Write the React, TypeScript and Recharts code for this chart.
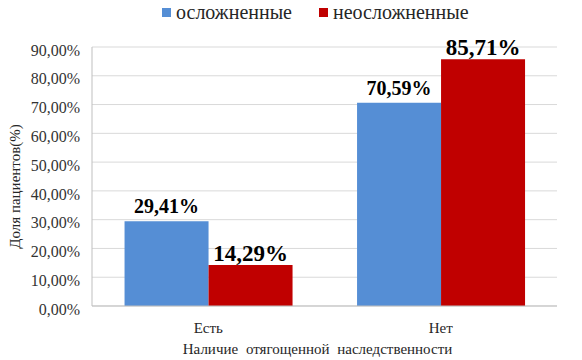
import React from 'react';
import { BarChart, Bar, XAxis, YAxis, CartesianGrid, LabelList, Label } from 'recharts';

const categories = ['Есть', 'Нет'];
const complicated = [29.41, 70.59];
const uncomplicated = [14.29, 85.71];
const yTicks = [0, 10, 20, 30, 40, 50, 60, 70, 80, 90];

const data = categories.map((name, i) => ({
  name,
  complicated: complicated[i],
  uncomplicated: uncomplicated[i],
}));

const BLUE = '#558ED5';
const RED = '#C00000';
const FONT = "'Liberation Serif', 'Times New Roman', serif";

const fmt = (v: number) => v.toFixed(2).replace('.', ',') + '%';

const legendItems = [
  { label: 'осложненные', color: BLUE },
  { label: 'неосложненные', color: RED },
];

function LegendBox() {
  return (
    <div
      style={{
        position: 'absolute',
        top: 1,
        left: 162,
        display: 'flex',
        alignItems: 'center',
        fontFamily: FONT,
        fontSize: 20,
        color: '#262626',
      }}
    >
      {legendItems.map((it, i) => (
        <div key={i} style={{ display: 'flex', alignItems: 'center', marginRight: 27 }}>
          <span style={{ width: 9, height: 9, background: it.color, display: 'inline-block', marginRight: 5 }} />
          <span>{it.label}</span>
        </div>
      ))}
    </div>
  );
}

export default function App() {
  return (
    <div style={{ position: 'absolute', left: 0, top: 0, width: 582, height: 360, background: '#fff', fontFamily: FONT }}>
      <BarChart
        width={582}
        height={360}
        data={data}
        margin={{ top: 47, right: 25, bottom: 0, left: 0 }}
        barCategoryGap="14%"
        barGap={0}
        style={{ fontFamily: FONT }}
      >
        <CartesianGrid vertical={false} stroke="#d9d9d9" />
        <XAxis
          dataKey="name"
          height={54}
          tickLine={false}
          tickMargin={10}
          axisLine={{ stroke: '#bfbfbf' }}
          tick={{ fontSize: 15, fill: '#262626' }}
        >
          <Label
            content={({ viewBox }: any) => (
              <text
                x={viewBox.x + viewBox.width / 2 - 7}
                y={viewBox.y + viewBox.height - 6}
                textAnchor="middle"
                fontSize={15}
                fill="#262626"
                wordSpacing={4}
              >
                Наличие отягощенной наследственности
              </text>
            )}
          />
        </XAxis>
        <YAxis
          width={92}
          domain={[0, 90]}
          ticks={yTicks}
          interval={0}
          tickLine={false}
          tickMargin={6}
          axisLine={{ stroke: '#bfbfbf' }}
          tickFormatter={fmt}
          tick={{ fontSize: 16, fill: '#333', dy: 3 }}
        >
          <Label
            content={({ viewBox }: any) => {
              const cx = 15;
              const cy = viewBox.y + viewBox.height / 2 + 10;
              return (
                <text
                  x={cx}
                  y={cy}
                  transform={`rotate(-90 ${cx} ${cy})`}
                  textAnchor="middle"
                  dominantBaseline="central"
                  fontSize={15}
                  fill="#262626"
                >
                  Доля пациентов(%)
                </text>
              );
            }}
          />
        </YAxis>
        <Bar dataKey="complicated" name="осложненные" fill={BLUE} isAnimationActive={false}>
          <LabelList
            dataKey="complicated"
            position="top"
            offset={8}
            formatter={(v: any) => fmt(Number(v))}
            style={{ fontSize: 20, fontWeight: 'bold', fill: '#000' }}
          />
        </Bar>
        <Bar dataKey="uncomplicated" name="неосложненные" fill={RED} isAnimationActive={false}>
          <LabelList
            dataKey="uncomplicated"
            position="top"
            offset={4}
            formatter={(v: any) => fmt(Number(v))}
            style={{ fontSize: 23, fontWeight: 'bold', fill: '#000' }}
          />
        </Bar>
      </BarChart>
      <LegendBox />
    </div>
  );
}
